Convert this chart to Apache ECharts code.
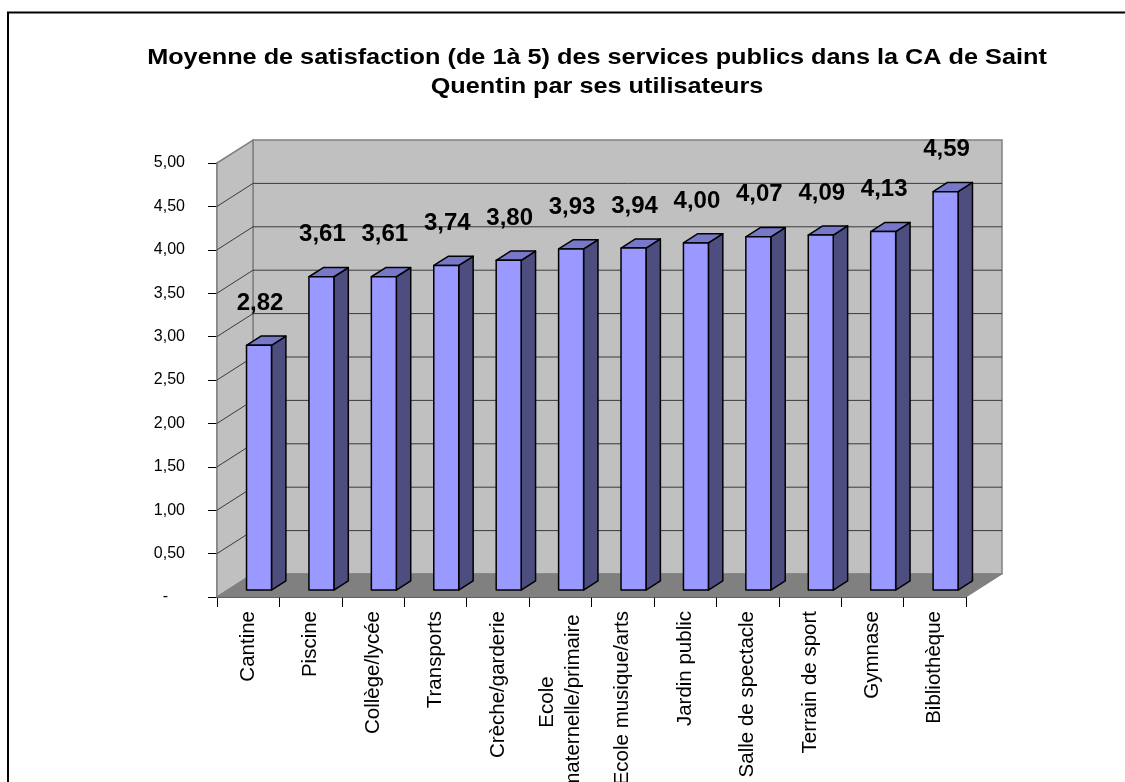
<!DOCTYPE html>
<html>
<head>
<meta charset="utf-8">
<script src="https://cdn.jsdelivr.net/npm/echarts@6/dist/echarts.min.js"></script>
<style>
  html, body { margin: 0; padding: 0; background: #fff; }
  #main { width: 1125px; height: 782px; }
</style>
</head>
<body>
<div id="main"></div>
<script>
// Satisfaction averages (scale 1 to 5) per public service
const categories = [
  'Cantine', 'Piscine', 'Collège/lycée', 'Transports', 'Crèche/garderie',
  'Ecole\nmaternelle/primaire', 'Ecole musique/arts', 'Jardin public',
  'Salle de spectacle', 'Terrain de sport', 'Gymnase', 'Bibliothèque'
];
const values = [2.82, 3.61, 3.61, 3.74, 3.80, 3.93, 3.94, 4.00, 4.07, 4.09, 4.13, 4.59];
const yMin = 0;
const yMax = 5;
const yStep = 0.5;
const titleLines = [
  'Moyenne de satisfaction (de 1à 5) des services publics dans la CA de Saint',
  'Quentin par ses utilisateurs'
];

const FONT = "'Liberation Sans', Arial, sans-serif";
// Oblique depth of the plot box (pixels) and bar depth placement
const DEPTH = [36, -23];
const BAR_FRONT = 0.3;
const BAR_BACK = 0.7;
const BAR_WIDTH = 0.4;

const fmt = v => v.toFixed(2).replace('.', ',');

function renderWalls(params, api) {
  const bw = api.size([1, 0])[0];
  const p0 = api.coord([0, yMin]);
  const pTop = api.coord([0, yMax]);
  const left = p0[0] - bw / 2;
  const right = left + bw * categories.length;
  const yb = p0[1], yt = pTop[1];
  const dx = DEPTH[0], dy = DEPTH[1];
  const children = [];
  // back wall
  children.push({
    type: 'polygon',
    shape: { points: [[left + dx, yt + dy], [right + dx, yt + dy], [right + dx, yb + dy], [left + dx, yb + dy]] },
    style: { fill: '#C0C0C0', stroke: '#808080', lineWidth: 1.5 }
  });
  // side wall
  children.push({
    type: 'polygon',
    shape: { points: [[left, yt], [left + dx, yt + dy], [left + dx, yb + dy], [left, yb]] },
    style: { fill: '#C0C0C0', stroke: '#808080', lineWidth: 1.5 }
  });
  // gridlines on both walls
  for (let v = yMin + yStep; v < yMax - 1e-9; v += yStep) {
    const y = api.coord([0, v])[1];
    children.push({
      type: 'polyline',
      shape: { points: [[left, y], [left + dx, y + dy], [right + dx, y + dy]] },
      style: { stroke: '#3a3a3a', lineWidth: 1, fill: null }
    });
  }
  // floor
  children.push({
    type: 'polygon',
    shape: { points: [[left, yb], [right, yb], [right + dx, yb + dy], [left + dx, yb + dy]] },
    style: { fill: '#808080', stroke: '#808080', lineWidth: 1 }
  });
  return { type: 'group', children };
}

function renderBar(params, api) {
  const i = api.value(0);
  const v = api.value(1);
  const bw = api.size([1, 0])[0];
  const base = api.coord([i, yMin]);
  const top = api.coord([i, v]);
  const dx = DEPTH[0], dy = DEPTH[1];
  const cx = base[0] + BAR_FRONT * dx;
  const w = bw * BAR_WIDTH;
  const x1 = cx - w / 2, x2 = cx + w / 2;
  const yT = top[1] + BAR_FRONT * dy;
  const yB = base[1] + BAR_FRONT * dy;
  const bx = (BAR_BACK - BAR_FRONT) * dx;
  const by = (BAR_BACK - BAR_FRONT) * dy;
  const edge = { stroke: '#000', lineWidth: 1.5, lineJoin: 'round' };
  return {
    type: 'group',
    children: [
      { type: 'polygon', shape: { points: [[x2, yT], [x2 + bx, yT + by], [x2 + bx, yB + by], [x2, yB]] },
        style: Object.assign({ fill: '#4D4D80' }, edge) },
      { type: 'polygon', shape: { points: [[x1, yT], [x2, yT], [x2 + bx, yT + by], [x1 + bx, yT + by]] },
        style: Object.assign({ fill: '#7878C8' }, edge) },
      { type: 'rect', shape: { x: x1, y: yT, width: w, height: yB - yT },
        style: Object.assign({ fill: '#9999FF' }, edge) },
      { type: 'text', x: cx + 1, y: yT - 42,
        style: { text: fmt(v), font: 'bold 24px ' + FONT, fill: '#000', align: 'center', verticalAlign: 'middle' } }
    ]
  };
}

const chart = echarts.init(document.getElementById('main'), null, { renderer: 'canvas' });
chart.setOption({
  animation: false,
  backgroundColor: '#fff',
  graphic: [
    {
      type: 'rect',
      shape: { x: 8, y: 12.5, width: 1140, height: 800 },
      style: { fill: null, stroke: '#000', lineWidth: 2 },
      silent: true
    },
    {
      type: 'text', x: 597, y: 58, scaleX: 1.148,
      style: { text: titleLines[0], font: 'bold 22px ' + FONT, fill: '#000', align: 'center', verticalAlign: 'middle' }
    },
    {
      type: 'text', x: 597, y: 87, scaleX: 1.148,
      style: { text: titleLines[1], font: 'bold 22px ' + FONT, fill: '#000', align: 'center', verticalAlign: 'middle' }
    }
  ],
  grid: { left: 217, right: 159, top: 163, bottom: 185, containLabel: false, outerBoundsMode: 'none' },
  xAxis: {
    type: 'category',
    data: categories,
    axisLine: { show: true, lineStyle: { color: '#000', width: 1.5 } },
    axisTick: { show: true, length: 10, lineStyle: { color: '#000', width: 1 } },
    axisLabel: {
      interval: 0, rotate: 90, margin: 14, color: '#000', fontFamily: FONT, fontSize: 20.5,
      formatter: s => s.indexOf('\n') >= 0 ? s.split('\n').map(p => '{c|' + p + '}').join('\n') : s,
      rich: { c: { width: 182, align: 'center', fontSize: 20.5, fontFamily: FONT, color: '#000', lineHeight: 26 } }
    },
    splitLine: { show: false }
  },
  yAxis: {
    type: 'value',
    min: yMin, max: yMax, interval: yStep,
    axisLine: { show: true, lineStyle: { color: '#808080', width: 1.5 } },
    axisTick: { show: true, length: 9, lineStyle: { color: '#000', width: 1 } },
    axisLabel: {
      margin: 32, color: '#000', fontFamily: FONT, fontSize: 16,
      formatter: v => v === 0 ? '{z|-}' : fmt(v),
      rich: { z: { padding: [0, 17, 0, 0], fontSize: 16, fontFamily: FONT, color: '#000' } }
    },
    splitLine: { show: false }
  },
  series: [
    { type: 'custom', name: 'walls', renderItem: renderWalls, data: [[0, 0]], z: 1, silent: true },
    { type: 'custom', name: 'Moyenne', renderItem: renderBar, data: values.map((v, i) => [i, v]), z: 3 }
  ]
});
</script>
</body>
</html>
